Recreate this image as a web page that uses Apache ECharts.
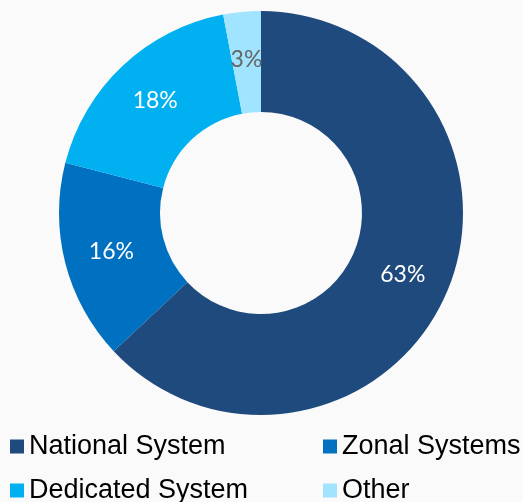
<!DOCTYPE html>
<html><head><meta charset="utf-8">
<script src="https://cdn.jsdelivr.net/npm/echarts@6/dist/echarts.min.js"></script>
<style>html,body{margin:0;padding:0;background:#FAFAFA;}#c{width:523px;height:502px;}</style>
</head><body><div id="c"></div>
<script>
var categories = ["National System", "Zonal Systems", "Dedicated System", "Other"];
var values = [63, 16, 18, 3];
var colors = ["#1F4A7D", "#0070C0", "#00B0F0", "#A0E4FF"];
var labelColors = ["#FFFFFF", "#FFFFFF", "#FFFFFF", "#666666"];

var chart = echarts.init(document.getElementById('c'));
var data = categories.map(function (n, i) {
  return { name: n, value: values[i], itemStyle: { color: colors[i] }, label: { color: labelColors[i] } };
});
var legendPos = [[10, 433], [323, 433], [10, 477], [323, 477]];
var legends = categories.map(function (n, i) {
  return {
    orient: 'horizontal', left: legendPos[i][0], top: legendPos[i][1], padding: 0,
    itemWidth: 14, itemHeight: 14, icon: 'rect',
    textStyle: { fontFamily: 'Liberation Sans, Arial', fontSize: 27, color: '#000' },
    selectedMode: false, data: [n]
  };
});
chart.setOption({
  backgroundColor: '#FAFAFA',
  animation: false,
  legend: legends,
  series: [{
    type: 'pie',
    center: [261, 213],
    radius: [101, 202],
    startAngle: 90,
    clockwise: true,
    data: data,
    label: {
      show: true, position: 'inside', formatter: '{c}%',
      fontFamily: 'Lato, Open Sans, sans-serif', fontSize: 23
    },
    labelLine: { show: false },
    itemStyle: { borderWidth: 0 },
    emphasis: { disabled: true }
  }]
});
</script></body></html>
